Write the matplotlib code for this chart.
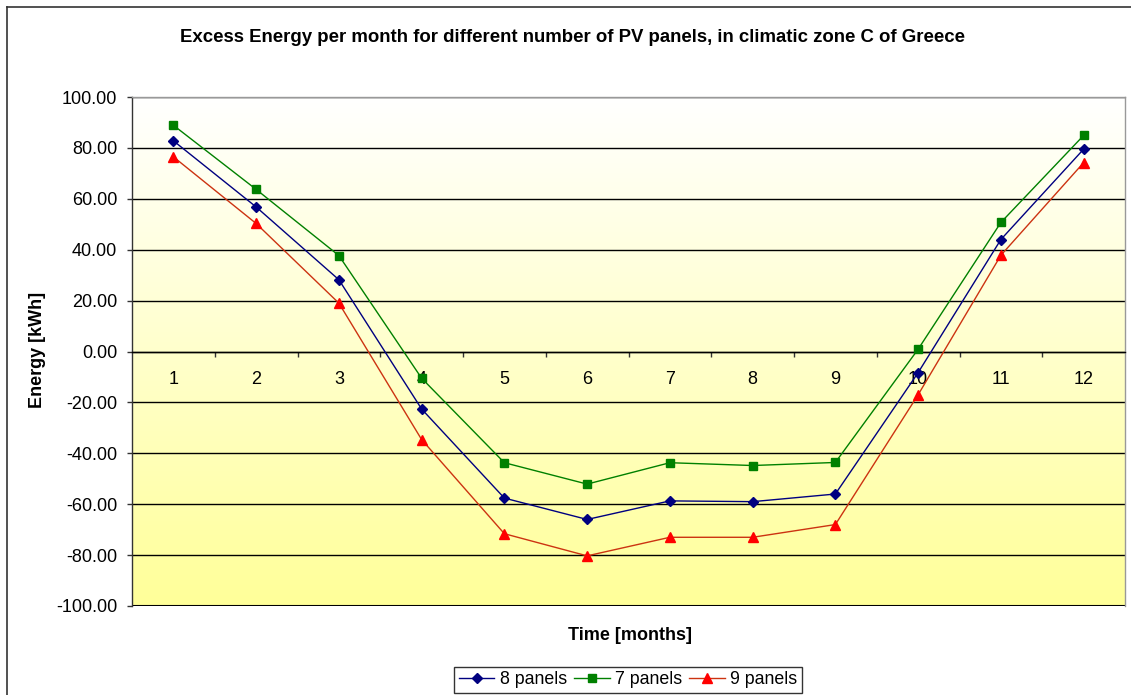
import numpy as np
import matplotlib.pyplot as plt
from matplotlib.lines import Line2D
from matplotlib.colors import LinearSegmentedColormap

plt.rcParams['font.family'] = ['Liberation Sans', 'DejaVu Sans']
plt.rcParams['axes.unicode_minus'] = False

months = list(range(1, 13))
panels_8 = [82.8, 56.8, 28.2, -22.6, -57.6, -66.0, -58.7, -59.0, -56.0, -8.3, 44.0, 79.5]
panels_7 = [88.9, 63.7, 37.7, -10.5, -43.7, -52.1, -43.7, -44.8, -43.6, 0.9, 50.7, 84.9]
panels_9 = [76.5, 50.3, 19.0, -34.6, -71.6, -80.3, -73.0, -73.0, -68.0, -17.0, 37.8, 74.2]

W, H = 1131, 695
fig = plt.figure(figsize=(W / 100, H / 100), dpi=100)
fig.patch.set_facecolor('white')

# axes box in pixels
left, top, right, bottom = 132, 97, 1125, 606
ax = fig.add_axes([left / W, 1 - bottom / H, (right - left) / W, (bottom - top) / H])

# white (top) -> light yellow (bottom) gradient background
cmap = LinearSegmentedColormap.from_list('bg', ['#FFFFFF', '#FFFF99'])
grad = np.linspace(0, 1, 256).reshape(-1, 1)
ax.imshow(grad, cmap=cmap, extent=[0.5, 12.5, -100, 100], aspect='auto',
          zorder=0, origin='upper')

ax.set_xlim(0.5, 12.5)
ax.set_ylim(-100, 100)

ax.plot(months, panels_8, color='#000080', lw=1, marker='D', ms=5, label='8 panels', zorder=4)
ax.plot(months, panels_7, color='#008000', lw=1, marker='s', ms=5.5, label='7 panels', zorder=3)
ax.plot(months, panels_9, color='#CC3311', lw=1, marker='^', ms=6.5, label='9 panels', zorder=3,
        markerfacecolor='#FF0000', markeredgecolor='#FF0000')

# y axis
yt = np.arange(-100, 101, 20)
ax.set_yticks(yt)
ax.set_yticklabels(['%.2f' % v for v in yt])
ax.yaxis.grid(True, color='black', lw=1)
for gl in ax.get_ygridlines():
    gl.set_zorder(1)
ax.tick_params(axis='y', direction='out', length=3.6, width=1, color='#333333',
               labelsize=13, pad=7)

# x axis crossing at zero, labels under it, ticks between categories
ax.spines['bottom'].set_position(('data', 0))
ax.spines['bottom'].set_color('black')
ax.set_xticks(months)
ax.set_xticklabels([str(m) for m in months])
ax.set_xticks(np.arange(1.5, 12.5, 1), minor=True)
ax.tick_params(axis='x', which='major', length=0, labelsize=13, pad=14)
ax.tick_params(axis='x', which='minor', direction='out', length=3.6, width=1, color='#333333')

ax.spines['left'].set_color('#333333')
ax.spines['top'].set_color('#999999')
ax.spines['right'].set_color('#999999')
for s in ax.spines.values():
    s.set_linewidth(1)
ax.axhline(-100, color='black', lw=1.5, zorder=2)

fig.text(572 / W, 1 - 37 / H,
         'Excess Energy per month for different number of PV panels, in climatic zone C of Greece',
         ha='center', va='center', fontsize=13.4, fontweight='bold')
fig.text(37 / W, 1 - 350 / H, 'Energy [kWh]', rotation=90, ha='center', va='center',
         fontsize=13, fontweight='bold')
fig.text(630 / W, 1 - 636 / H, 'Time [months]', ha='center', va='center',
         fontsize=13, fontweight='bold')

leg = fig.legend(loc='center', bbox_to_anchor=(628 / W, 1 - 680 / H), ncol=3,
                 fontsize=12.8, frameon=True, fancybox=False, handlelength=2,
                 handletextpad=0.3, columnspacing=0.4, borderpad=0.25, borderaxespad=0)
leg.get_frame().set_edgecolor('black')
leg.get_frame().set_linewidth(1)

# chart area border (cut off at right and bottom)
fig.add_artist(Line2D([7 / W, 7 / W], [1 - 7 / H, 0], color='#333333', lw=1.2))
fig.add_artist(Line2D([7 / W, 1], [1 - 7 / H, 1 - 7 / H], color='#333333', lw=1.2))

fig.savefig('out.png', dpi=100)
